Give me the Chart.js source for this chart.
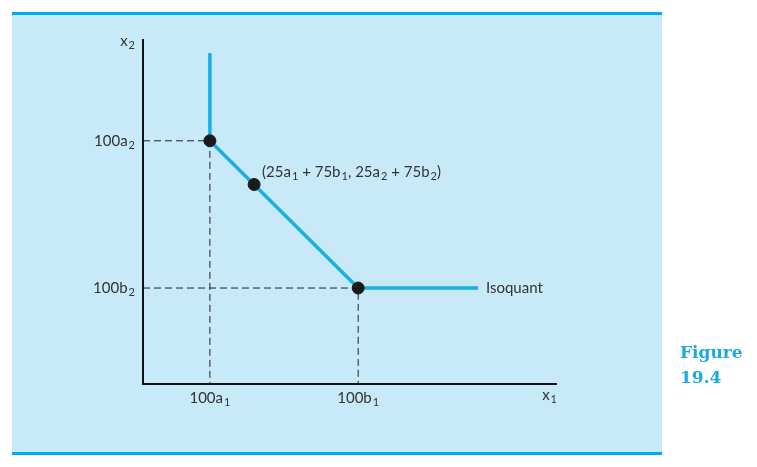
<!DOCTYPE html>
<html>
<head>
<meta charset="utf-8">
<script src="https://cdn.jsdelivr.net/npm/chart.js@4"></script>
<style>
  body { margin: 0; background: #fff; width: 757px; height: 467px; position: relative; overflow: hidden; }
  #panel { position: absolute; left: 12px; top: 12px; width: 650px; height: 437px;
           background: #c8e9f8; border-top: 3px solid #00aeef; border-bottom: 3px solid #00aeef; }
  #wrap { position: absolute; left: 0; top: 0; width: 757px; height: 467px; }
  #fig { position: absolute; left: 680px; top: 340px; color: #1ba9e1;
         font: bold 17px "DejaVu Serif", serif; line-height: 25px; }
</style>
</head>
<body>
<div id="panel"></div>
<div id="wrap"><canvas id="myChart" width="757" height="467"></canvas></div>
<div id="fig">Figure<br>19.4</div>
<script>
// positions in abstract units, axes run 0..100
// "_" marks the next character as a subscript
const xTicks = [16.2, 52.1];
const xTickLabels = ["100a_1", "100b_1"];
const yTicks = [70.7, 27.9];
const yTickLabels = ["100a_2", "100b_2"];

// isoquant kinked line
const isoX = [16.2, 16.2, 52.1, 81.1];
const isoY = [96.2, 70.7, 27.9, 27.9];

// marked points: activity a, the mix, activity b
const dotX = [16.2, 26.9, 52.1];
const dotY = [70.7, 58.0, 27.9];

const mixLabel = "(25a_1 + 75b_1, 25a_2 + 75b_2)";
const isoLabel = "Isoquant";

const FONT = "Lato, 'Open Sans', sans-serif";
const INK = "#333";
const SIZE = 15;
const SUB = 11;

function pts(xs, ys) {
  const out = [];
  for (let i = 0; i < xs.length; i++) out.push({ x: xs[i], y: ys[i] });
  return out;
}

// split "100a_2" into runs of normal and subscript text
function runs(text) {
  const out = [];
  let buf = "";
  for (let i = 0; i < text.length; i++) {
    if (text[i] === "_") {
      if (buf) out.push({ t: buf, sub: false });
      buf = "";
      out.push({ t: text[i + 1], sub: true });
      i++;
    } else {
      buf += text[i];
    }
  }
  if (buf) out.push({ t: buf, sub: false });
  return out;
}

function plain(text) {
  return text.replace(/_/g, "");
}

// draw text with subscripts, baseline at y
function drawRich(ctx, text, x, y, align) {
  const parts = runs(text);
  let w = 0;
  parts.forEach((p) => {
    ctx.font = (p.sub ? SUB : SIZE) + "px " + FONT;
    p.w = ctx.measureText(p.t).width;
    w += p.w + (p.sub ? 1 : 0);
  });
  let cx = x;
  if (align === "right") cx = x - w;
  if (align === "center") cx = x - w / 2;
  ctx.textAlign = "left";
  ctx.textBaseline = "alphabetic";
  parts.forEach((p) => {
    ctx.font = (p.sub ? SUB : SIZE) + "px " + FONT;
    if (p.sub) {
      ctx.fillText(p.t, cx + 1, y + 3);
      cx += p.w + 1;
    } else {
      ctx.fillText(p.t, cx, y);
      cx += p.w;
    }
  });
}

// dashed guides from a point down to the x axis and across to the y axis
function guide(x, y) {
  return {
    data: [{ x: 0, y: y }, { x: x, y: y }, { x: x, y: 0 }],
    showLine: true,
    borderColor: "#222",
    borderWidth: 1,
    borderDash: [7, 4],
    pointRadius: 0,
    order: 3,
  };
}

const textPlugin = {
  id: "texts",
  afterDatasetsDraw(chart) {
    const ctx = chart.ctx;
    const xs = chart.scales.x;
    const ys = chart.scales.y;
    const area = chart.chartArea;
    ctx.save();
    ctx.fillStyle = INK;
    // tick labels at the library's tick positions
    xs.ticks.forEach((t, i) => {
      drawRich(ctx, xTickLabels[i], xs.getPixelForValue(t.value), area.bottom + 19, "center");
    });
    ys.ticks.forEach((t, i) => {
      drawRich(ctx, yTickLabels[i], area.left - 8, ys.getPixelForValue(t.value) + 5, "right");
    });
    drawRich(ctx, mixLabel, xs.getPixelForValue(dotX[1]) + 8, ys.getPixelForValue(dotY[1]) - 7, "left");
    drawRich(ctx, isoLabel, xs.getPixelForValue(isoX[3]) + 8, ys.getPixelForValue(isoY[3]) + 5, "left");
    drawRich(ctx, "x_2", area.left - 8, area.top + 6, "right");
    drawRich(ctx, "x_1", area.right + 1, area.bottom + 16, "right");
    ctx.restore();
  },
};

const ctx = document.getElementById("myChart").getContext("2d");
const myChart = new Chart(ctx, {
  type: "scatter",
  data: {
    datasets: [
      guide(dotX[0], dotY[0]),
      guide(dotX[2], dotY[2]),
      {
        data: pts(isoX, isoY),
        showLine: true,
        borderColor: "#1aaee5",
        borderWidth: 3.5,
        pointRadius: 0,
        order: 2,
      },
      {
        data: pts(dotX, dotY),
        backgroundColor: "#1a1a1a",
        borderColor: "#1a1a1a",
        pointRadius: 6,
        order: 1,
      },
    ],
  },
  options: {
    responsive: false,
    animation: false,
    layout: { padding: { left: 0, top: 40, right: 201, bottom: 0 } },
    plugins: { legend: { display: false }, tooltip: { enabled: false } },
    scales: {
      x: {
        type: "linear",
        min: 0,
        max: 100,
        grid: { display: false, drawTicks: false },
        border: { display: true, color: "#111", width: 2 },
        afterBuildTicks(scale) {
          scale.ticks = xTicks.map((v) => ({ value: v }));
        },
        afterFit(scale) { scale.height = 83; },
        ticks: {
          autoSkip: false,
          maxRotation: 0,
          padding: 6,
          color: "rgba(0,0,0,0)",
          font: { size: SIZE, family: FONT },
          callback: (v, i) => plain(xTickLabels[i]),
        },
      },
      y: {
        type: "linear",
        min: 0,
        max: 100,
        grid: { display: false, drawTicks: false },
        border: { display: true, color: "#111", width: 2 },
        afterBuildTicks(scale) {
          scale.ticks = yTicks.map((v) => ({ value: v }));
        },
        afterFit(scale) { scale.width = 143; },
        ticks: {
          autoSkip: false,
          padding: 8,
          color: "rgba(0,0,0,0)",
          font: { size: SIZE, family: FONT },
          callback: (v, i) => plain(yTickLabels[i]),
        },
      },
    },
  },
  plugins: [textPlugin],
});
</script>
</body>
</html>
